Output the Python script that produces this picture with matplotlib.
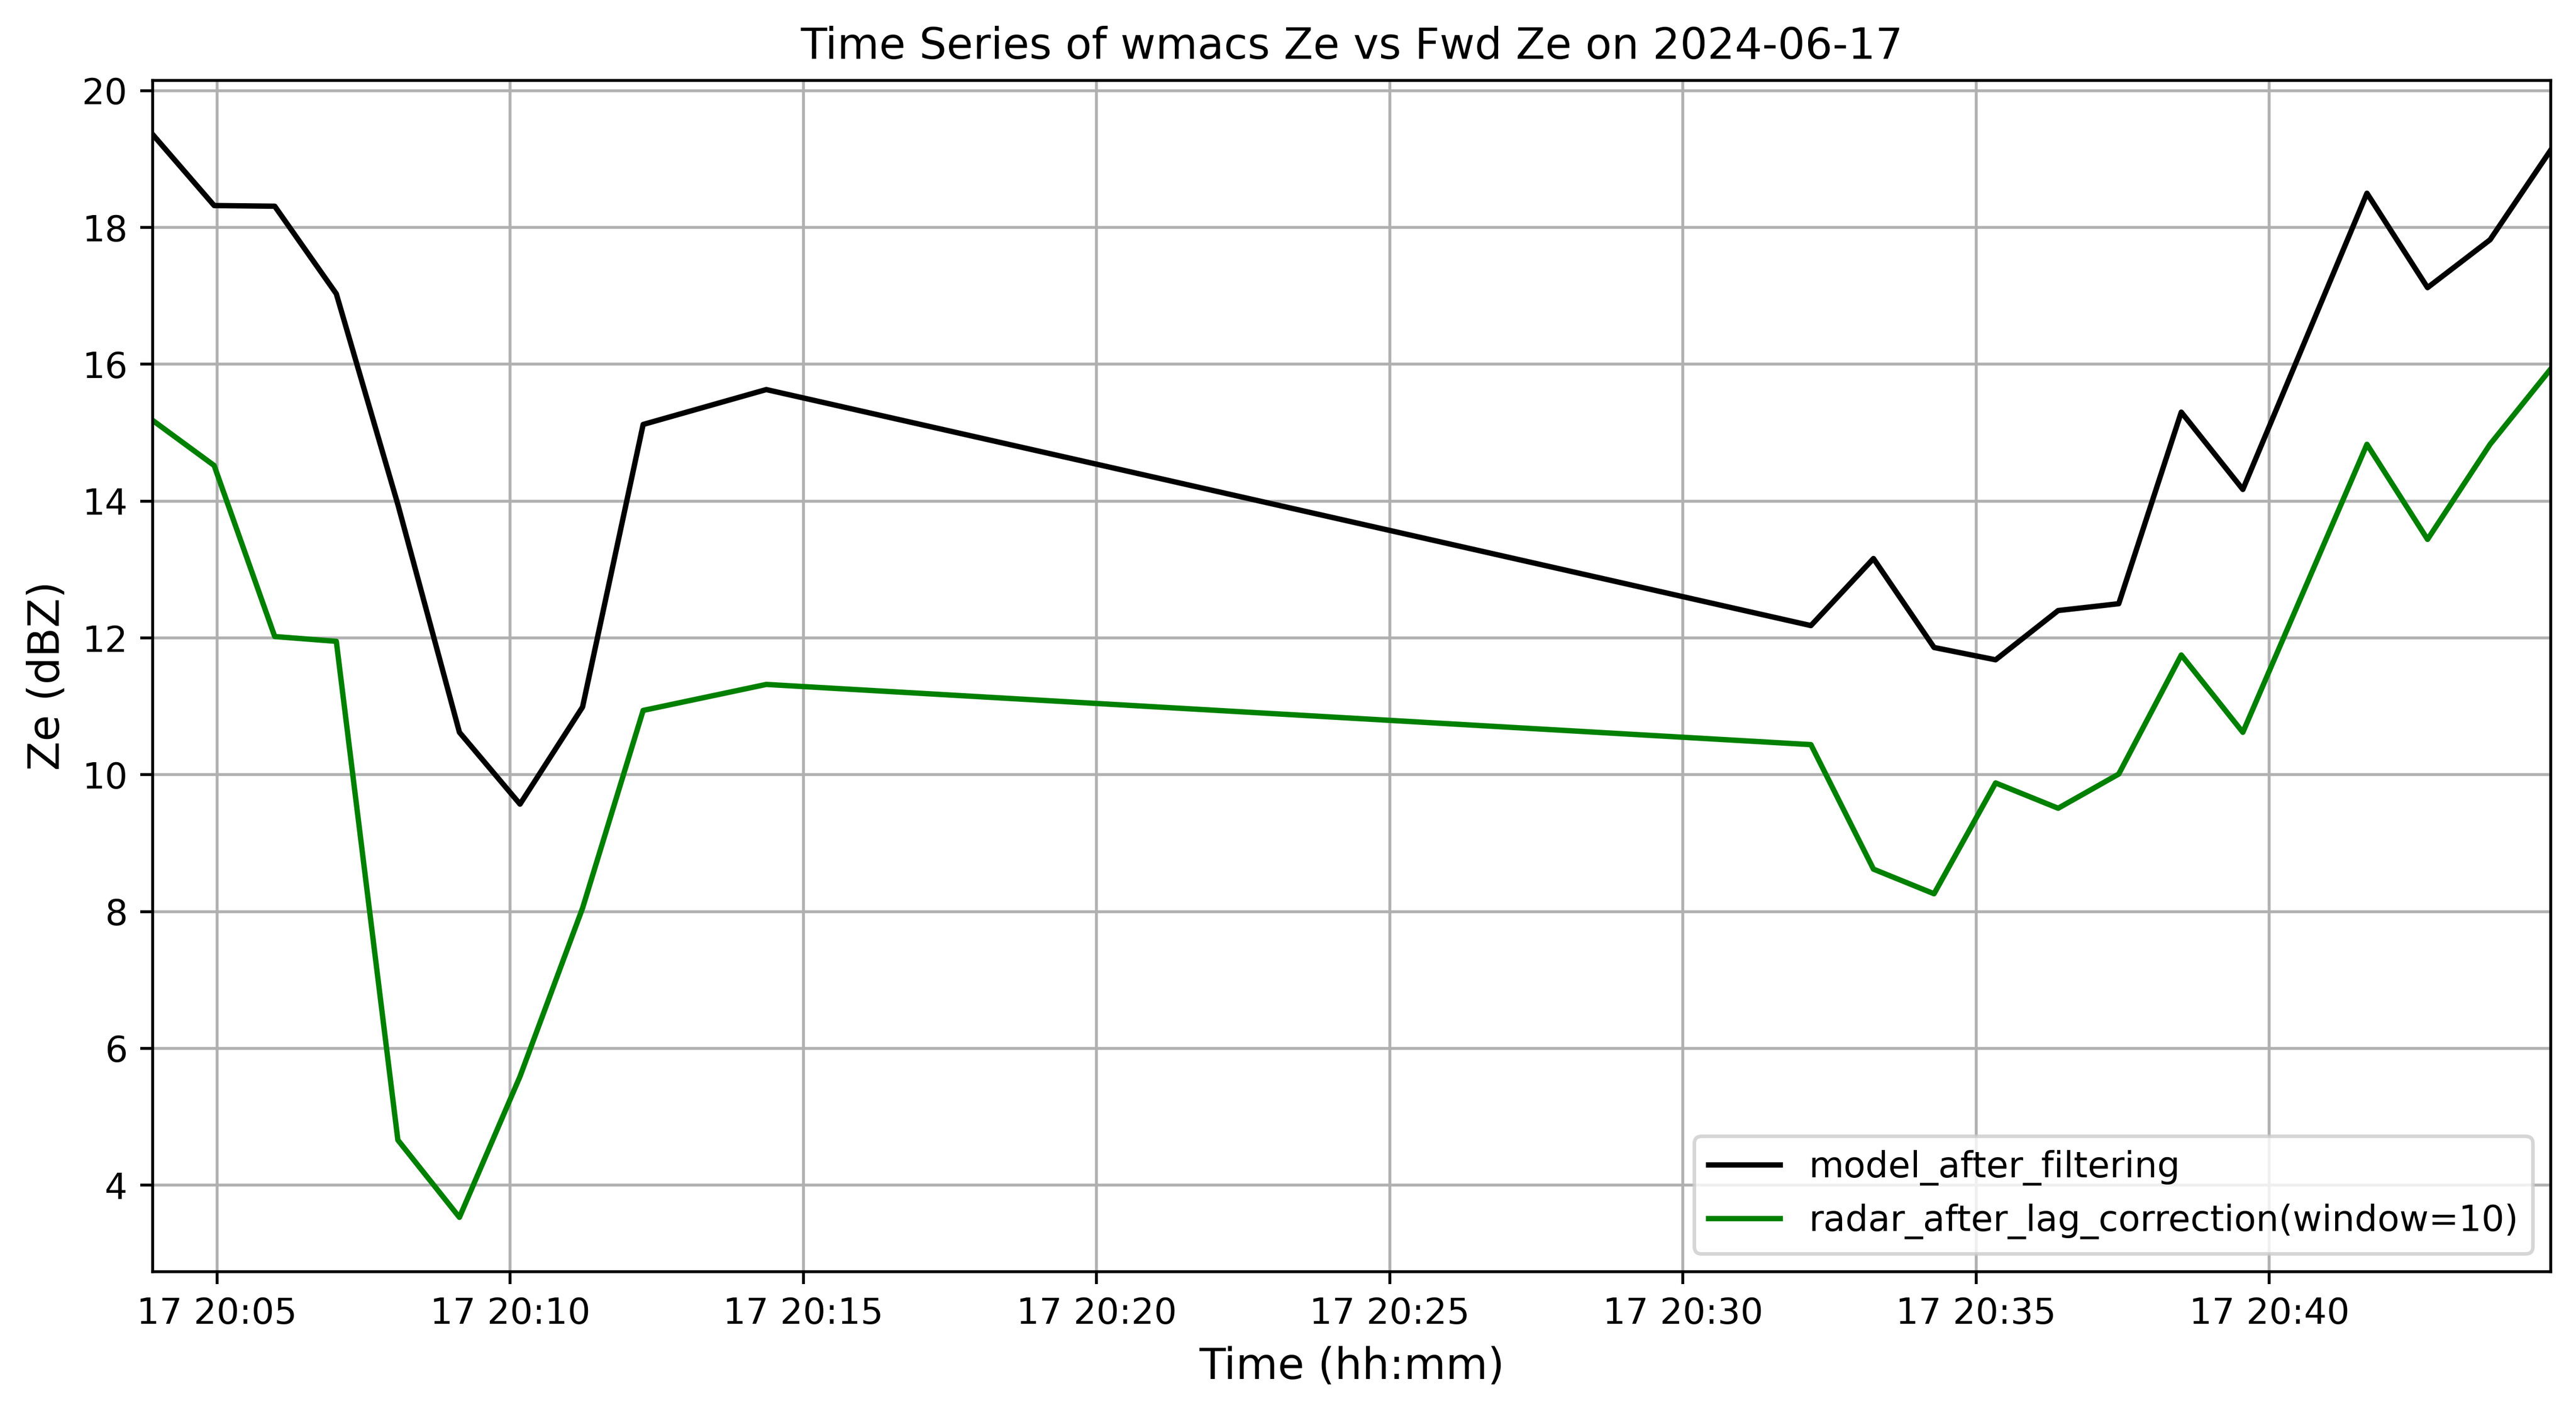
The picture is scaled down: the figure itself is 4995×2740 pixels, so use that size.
import pandas as pd
import matplotlib
matplotlib.use("Agg")
from matplotlib import pyplot as plt
import matplotlib.dates as mdates

# времена отсчётов
times = pd.to_datetime([
    "2024-06-17 20:03:54", "2024-06-17 20:04:57", "2024-06-17 20:05:59",
    "2024-06-17 20:07:02", "2024-06-17 20:08:05", "2024-06-17 20:09:08",
    "2024-06-17 20:10:10", "2024-06-17 20:11:14", "2024-06-17 20:12:16",
    "2024-06-17 20:14:22", "2024-06-17 20:32:11", "2024-06-17 20:33:15",
    "2024-06-17 20:34:17", "2024-06-17 20:35:20", "2024-06-17 20:36:24",
    "2024-06-17 20:37:26", "2024-06-17 20:38:30", "2024-06-17 20:39:33",
    "2024-06-17 20:41:40", "2024-06-17 20:42:42", "2024-06-17 20:43:46",
    "2024-06-17 20:44:48",
])
model_ze = [19.36, 18.32, 18.31, 17.03, 13.95, 10.62, 9.57, 10.99, 15.12,
            15.63, 12.18, 13.16, 11.86, 11.68, 12.40, 12.50, 15.30, 14.17,
            18.50, 17.12, 17.82, 19.13]
radar_ze = [15.18, 14.52, 12.02, 11.95, 4.66, 3.53, 5.59, 8.05, 10.94,
            11.32, 10.44, 8.62, 8.26, 9.88, 9.51, 10.01, 11.75, 10.62,
            14.83, 13.44, 14.83, 15.93]

fig, ax = plt.subplots(figsize=(12, 6))
ax.plot(times, model_ze, color='black', label='model_after_filtering')
ax.plot(times, radar_ze, color='green', label='radar_after_lag_correction(window=10)')
ax.set_xlim(times[0], times[-1])
ax.xaxis.set_major_locator(mdates.MinuteLocator(byminute=range(0, 60, 5)))
ax.xaxis.set_major_formatter(mdates.DateFormatter('%d %H:%M'))
ax.set_title('Time Series of wmacs Ze vs Fwd Ze on 2024-06-17')
ax.set_xlabel('Time (hh:mm)', fontsize=12)
ax.set_ylabel('Ze (dBZ)', fontsize=12)
ax.grid(True)
ax.legend(loc='lower right')
plt.savefig('out.png', dpi=500, bbox_inches='tight')
